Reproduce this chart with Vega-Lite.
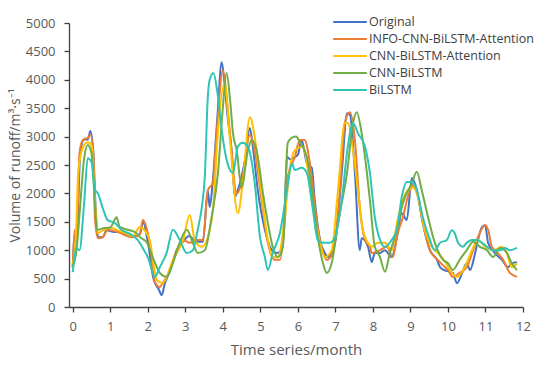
{
  "$schema": "https://vega.github.io/schema/vega-lite/v6.json",
  "width": 454,
  "height": 284,
  "autosize": {"type": "none"},
  "padding": {"left": 69, "top": 23, "right": 27, "bottom": 74},
  "background": "white",
  "config": {
    "view": {"stroke": null},
    "font": "Open Sans",
    "axis": {"labelFont": "Open Sans", "titleFont": "Open Sans", "labelColor": "#595959", "titleColor": "#595959", "labelFontSize": 13, "titleFontSize": 15, "titleFontWeight": "normal", "domainColor": "#404040", "tickColor": "#404040", "grid": false, "tickSize": 5, "domainWidth": 1.3, "tickWidth": 1.3}
  },
  "data": {
    "values": [
      {"s":"Original","t":0,"v":700},{"s":"Original","t":0.05,"v":1300},{"s":"Original","t":0.1,"v":1150},{"s":"Original","t":0.2,"v":2700},{"s":"Original","t":0.3,"v":2950},{"s":"Original","t":0.4,"v":2950},{"s":"Original","t":0.47,"v":3100},{"s":"Original","t":0.55,"v":2700},{"s":"Original","t":0.62,"v":1600},{"s":"Original","t":0.67,"v":1230},{"s":"Original","t":0.8,"v":1230},{"s":"Original","t":0.9,"v":1350},{"s":"Original","t":1.1,"v":1320},{"s":"Original","t":1.3,"v":1330},{"s":"Original","t":1.5,"v":1250},{"s":"Original","t":1.7,"v":1250},{"s":"Original","t":1.8,"v":1300},{"s":"Original","t":1.87,"v":1500},{"s":"Original","t":2.0,"v":1150},{"s":"Original","t":2.15,"v":500},{"s":"Original","t":2.3,"v":300},{"s":"Original","t":2.37,"v":210},{"s":"Original","t":2.45,"v":400},{"s":"Original","t":2.6,"v":650},{"s":"Original","t":2.77,"v":1000},{"s":"Original","t":2.94,"v":1150},{"s":"Original","t":3.1,"v":1250},{"s":"Original","t":3.3,"v":1150},{"s":"Original","t":3.47,"v":1150},{"s":"Original","t":3.6,"v":2050},{"s":"Original","t":3.65,"v":1760},{"s":"Original","t":3.73,"v":2200},{"s":"Original","t":3.85,"v":3300},{"s":"Original","t":3.97,"v":4310},{"s":"Original","t":4.05,"v":3900},{"s":"Original","t":4.13,"v":3340},{"s":"Original","t":4.24,"v":2710},{"s":"Original","t":4.32,"v":1940},{"s":"Original","t":4.4,"v":2060},{"s":"Original","t":4.59,"v":2590},{"s":"Original","t":4.72,"v":3150},{"s":"Original","t":4.8,"v":2820},{"s":"Original","t":4.93,"v":2060},{"s":"Original","t":5.12,"v":1360},{"s":"Original","t":5.31,"v":1000},{"s":"Original","t":5.45,"v":950},{"s":"Original","t":5.57,"v":1000},{"s":"Original","t":5.65,"v":1700},{"s":"Original","t":5.71,"v":2640},{"s":"Original","t":5.79,"v":2600},{"s":"Original","t":5.92,"v":2640},{"s":"Original","t":6.0,"v":2680},{"s":"Original","t":6.1,"v":2940},{"s":"Original","t":6.24,"v":2530},{"s":"Original","t":6.37,"v":2450},{"s":"Original","t":6.45,"v":1880},{"s":"Original","t":6.59,"v":1180},{"s":"Original","t":6.72,"v":950},{"s":"Original","t":6.8,"v":880},{"s":"Original","t":6.99,"v":1130},{"s":"Original","t":7.17,"v":2360},{"s":"Original","t":7.31,"v":3410},{"s":"Original","t":7.39,"v":3380},{"s":"Original","t":7.52,"v":2360},{"s":"Original","t":7.65,"v":1000},{"s":"Original","t":7.7,"v":1210},{"s":"Original","t":7.87,"v":1060},{"s":"Original","t":7.97,"v":790},{"s":"Original","t":8.05,"v":950},{"s":"Original","t":8.19,"v":950},{"s":"Original","t":8.32,"v":1000},{"s":"Original","t":8.5,"v":880},{"s":"Original","t":8.64,"v":1230},{"s":"Original","t":8.77,"v":1650},{"s":"Original","t":8.9,"v":1530},{"s":"Original","t":9.04,"v":2270},{"s":"Original","t":9.17,"v":2060},{"s":"Original","t":9.33,"v":1480},{"s":"Original","t":9.52,"v":1000},{"s":"Original","t":9.71,"v":830},{"s":"Original","t":9.79,"v":700},{"s":"Original","t":9.9,"v":650},{"s":"Original","t":10.13,"v":600},{"s":"Original","t":10.24,"v":420},{"s":"Original","t":10.38,"v":600},{"s":"Original","t":10.5,"v":770},{"s":"Original","t":10.59,"v":650},{"s":"Original","t":10.7,"v":880},{"s":"Original","t":10.8,"v":1180},{"s":"Original","t":10.91,"v":1410},{"s":"Original","t":10.99,"v":1440},{"s":"Original","t":11.07,"v":1130},{"s":"Original","t":11.25,"v":950},{"s":"Original","t":11.44,"v":830},{"s":"Original","t":11.6,"v":700},{"s":"Original","t":11.7,"v":770},{"s":"Original","t":11.84,"v":790},

      {"s":"INFO-CNN-BiLSTM-Attention","t":0,"v":700},{"s":"INFO-CNN-BiLSTM-Attention","t":0.05,"v":1355},{"s":"INFO-CNN-BiLSTM-Attention","t":0.1,"v":1180},{"s":"INFO-CNN-BiLSTM-Attention","t":0.18,"v":2710},{"s":"INFO-CNN-BiLSTM-Attention","t":0.27,"v":2940},{"s":"INFO-CNN-BiLSTM-Attention","t":0.4,"v":2980},{"s":"INFO-CNN-BiLSTM-Attention","t":0.47,"v":3030},{"s":"INFO-CNN-BiLSTM-Attention","t":0.55,"v":2700},{"s":"INFO-CNN-BiLSTM-Attention","t":0.59,"v":1580},{"s":"INFO-CNN-BiLSTM-Attention","t":0.67,"v":1210},{"s":"INFO-CNN-BiLSTM-Attention","t":0.8,"v":1230},{"s":"INFO-CNN-BiLSTM-Attention","t":0.93,"v":1360},{"s":"INFO-CNN-BiLSTM-Attention","t":1.2,"v":1320},{"s":"INFO-CNN-BiLSTM-Attention","t":1.57,"v":1230},{"s":"INFO-CNN-BiLSTM-Attention","t":1.78,"v":1270},{"s":"INFO-CNN-BiLSTM-Attention","t":1.87,"v":1530},{"s":"INFO-CNN-BiLSTM-Attention","t":2.05,"v":1130},{"s":"INFO-CNN-BiLSTM-Attention","t":2.19,"v":440},{"s":"INFO-CNN-BiLSTM-Attention","t":2.32,"v":350},{"s":"INFO-CNN-BiLSTM-Attention","t":2.4,"v":420},{"s":"INFO-CNN-BiLSTM-Attention","t":2.59,"v":650},{"s":"INFO-CNN-BiLSTM-Attention","t":2.77,"v":1000},{"s":"INFO-CNN-BiLSTM-Attention","t":2.94,"v":1180},{"s":"INFO-CNN-BiLSTM-Attention","t":3.12,"v":1130},{"s":"INFO-CNN-BiLSTM-Attention","t":3.3,"v":1180},{"s":"INFO-CNN-BiLSTM-Attention","t":3.47,"v":1180},{"s":"INFO-CNN-BiLSTM-Attention","t":3.6,"v":2060},{"s":"INFO-CNN-BiLSTM-Attention","t":3.73,"v":2180},{"s":"INFO-CNN-BiLSTM-Attention","t":3.85,"v":3200},{"s":"INFO-CNN-BiLSTM-Attention","t":4.0,"v":4170},{"s":"INFO-CNN-BiLSTM-Attention","t":4.1,"v":3700},{"s":"INFO-CNN-BiLSTM-Attention","t":4.19,"v":3060},{"s":"INFO-CNN-BiLSTM-Attention","t":4.37,"v":2000},{"s":"INFO-CNN-BiLSTM-Attention","t":4.5,"v":2180},{"s":"INFO-CNN-BiLSTM-Attention","t":4.72,"v":3030},{"s":"INFO-CNN-BiLSTM-Attention","t":4.85,"v":2760},{"s":"INFO-CNN-BiLSTM-Attention","t":5.02,"v":1940},{"s":"INFO-CNN-BiLSTM-Attention","t":5.2,"v":1130},{"s":"INFO-CNN-BiLSTM-Attention","t":5.39,"v":830},{"s":"INFO-CNN-BiLSTM-Attention","t":5.52,"v":830},{"s":"INFO-CNN-BiLSTM-Attention","t":5.65,"v":1480},{"s":"INFO-CNN-BiLSTM-Attention","t":5.73,"v":2290},{"s":"INFO-CNN-BiLSTM-Attention","t":5.92,"v":2640},{"s":"INFO-CNN-BiLSTM-Attention","t":6.05,"v":2940},{"s":"INFO-CNN-BiLSTM-Attention","t":6.18,"v":2940},{"s":"INFO-CNN-BiLSTM-Attention","t":6.32,"v":2530},{"s":"INFO-CNN-BiLSTM-Attention","t":6.5,"v":1530},{"s":"INFO-CNN-BiLSTM-Attention","t":6.63,"v":1060},{"s":"INFO-CNN-BiLSTM-Attention","t":6.77,"v":830},{"s":"INFO-CNN-BiLSTM-Attention","t":6.93,"v":950},{"s":"INFO-CNN-BiLSTM-Attention","t":7.12,"v":2060},{"s":"INFO-CNN-BiLSTM-Attention","t":7.25,"v":3240},{"s":"INFO-CNN-BiLSTM-Attention","t":7.39,"v":3430},{"s":"INFO-CNN-BiLSTM-Attention","t":7.52,"v":2940},{"s":"INFO-CNN-BiLSTM-Attention","t":7.65,"v":1760},{"s":"INFO-CNN-BiLSTM-Attention","t":7.79,"v":1180},{"s":"INFO-CNN-BiLSTM-Attention","t":7.92,"v":1060},{"s":"INFO-CNN-BiLSTM-Attention","t":7.97,"v":950},{"s":"INFO-CNN-BiLSTM-Attention","t":8.19,"v":1000},{"s":"INFO-CNN-BiLSTM-Attention","t":8.37,"v":1060},{"s":"INFO-CNN-BiLSTM-Attention","t":8.53,"v":880},{"s":"INFO-CNN-BiLSTM-Attention","t":8.66,"v":1300},{"s":"INFO-CNN-BiLSTM-Attention","t":8.8,"v":1580},{"s":"INFO-CNN-BiLSTM-Attention","t":8.93,"v":1940},{"s":"INFO-CNN-BiLSTM-Attention","t":9.07,"v":2150},{"s":"INFO-CNN-BiLSTM-Attention","t":9.2,"v":1940},{"s":"INFO-CNN-BiLSTM-Attention","t":9.33,"v":1480},{"s":"INFO-CNN-BiLSTM-Attention","t":9.52,"v":1000},{"s":"INFO-CNN-BiLSTM-Attention","t":9.73,"v":830},{"s":"INFO-CNN-BiLSTM-Attention","t":9.92,"v":700},{"s":"INFO-CNN-BiLSTM-Attention","t":10.0,"v":650},{"s":"INFO-CNN-BiLSTM-Attention","t":10.13,"v":530},{"s":"INFO-CNN-BiLSTM-Attention","t":10.31,"v":600},{"s":"INFO-CNN-BiLSTM-Attention","t":10.5,"v":700},{"s":"INFO-CNN-BiLSTM-Attention","t":10.67,"v":1000},{"s":"INFO-CNN-BiLSTM-Attention","t":10.8,"v":1230},{"s":"INFO-CNN-BiLSTM-Attention","t":10.99,"v":1440},{"s":"INFO-CNN-BiLSTM-Attention","t":11.07,"v":1360},{"s":"INFO-CNN-BiLSTM-Attention","t":11.17,"v":1060},{"s":"INFO-CNN-BiLSTM-Attention","t":11.33,"v":950},{"s":"INFO-CNN-BiLSTM-Attention","t":11.47,"v":830},{"s":"INFO-CNN-BiLSTM-Attention","t":11.65,"v":600},{"s":"INFO-CNN-BiLSTM-Attention","t":11.84,"v":530},

      {"s":"CNN-BiLSTM-Attention","t":0,"v":750},{"s":"CNN-BiLSTM-Attention","t":0.08,"v":1200},{"s":"CNN-BiLSTM-Attention","t":0.15,"v":2400},{"s":"CNN-BiLSTM-Attention","t":0.3,"v":2850},{"s":"CNN-BiLSTM-Attention","t":0.4,"v":2900},{"s":"CNN-BiLSTM-Attention","t":0.5,"v":2850},{"s":"CNN-BiLSTM-Attention","t":0.6,"v":1800},{"s":"CNN-BiLSTM-Attention","t":0.67,"v":1300},{"s":"CNN-BiLSTM-Attention","t":0.8,"v":1350},{"s":"CNN-BiLSTM-Attention","t":1.0,"v":1400},{"s":"CNN-BiLSTM-Attention","t":1.2,"v":1350},{"s":"CNN-BiLSTM-Attention","t":1.4,"v":1300},{"s":"CNN-BiLSTM-Attention","t":1.6,"v":1250},{"s":"CNN-BiLSTM-Attention","t":1.79,"v":1410},{"s":"CNN-BiLSTM-Attention","t":1.9,"v":1360},{"s":"CNN-BiLSTM-Attention","t":2.05,"v":1180},{"s":"CNN-BiLSTM-Attention","t":2.24,"v":475},{"s":"CNN-BiLSTM-Attention","t":2.4,"v":420},{"s":"CNN-BiLSTM-Attention","t":2.67,"v":830},{"s":"CNN-BiLSTM-Attention","t":2.94,"v":1180},{"s":"CNN-BiLSTM-Attention","t":3.12,"v":1620},{"s":"CNN-BiLSTM-Attention","t":3.25,"v":1180},{"s":"CNN-BiLSTM-Attention","t":3.44,"v":1060},{"s":"CNN-BiLSTM-Attention","t":3.65,"v":1360},{"s":"CNN-BiLSTM-Attention","t":3.75,"v":1800},{"s":"CNN-BiLSTM-Attention","t":3.85,"v":2900},{"s":"CNN-BiLSTM-Attention","t":4.05,"v":3940},{"s":"CNN-BiLSTM-Attention","t":4.19,"v":2940},{"s":"CNN-BiLSTM-Attention","t":4.4,"v":1650},{"s":"CNN-BiLSTM-Attention","t":4.53,"v":2180},{"s":"CNN-BiLSTM-Attention","t":4.72,"v":3340},{"s":"CNN-BiLSTM-Attention","t":4.85,"v":2990},{"s":"CNN-BiLSTM-Attention","t":5.03,"v":2000},{"s":"CNN-BiLSTM-Attention","t":5.2,"v":1180},{"s":"CNN-BiLSTM-Attention","t":5.33,"v":880},{"s":"CNN-BiLSTM-Attention","t":5.47,"v":880},{"s":"CNN-BiLSTM-Attention","t":5.65,"v":1580},{"s":"CNN-BiLSTM-Attention","t":5.79,"v":2460},{"s":"CNN-BiLSTM-Attention","t":5.92,"v":2760},{"s":"CNN-BiLSTM-Attention","t":6.13,"v":2820},{"s":"CNN-BiLSTM-Attention","t":6.4,"v":1760},{"s":"CNN-BiLSTM-Attention","t":6.59,"v":1130},{"s":"CNN-BiLSTM-Attention","t":6.72,"v":880},{"s":"CNN-BiLSTM-Attention","t":6.9,"v":1000},{"s":"CNN-BiLSTM-Attention","t":7.07,"v":2060},{"s":"CNN-BiLSTM-Attention","t":7.25,"v":3240},{"s":"CNN-BiLSTM-Attention","t":7.33,"v":3240},{"s":"CNN-BiLSTM-Attention","t":7.47,"v":2760},{"s":"CNN-BiLSTM-Attention","t":7.6,"v":2060},{"s":"CNN-BiLSTM-Attention","t":7.73,"v":1360},{"s":"CNN-BiLSTM-Attention","t":7.87,"v":1130},{"s":"CNN-BiLSTM-Attention","t":7.97,"v":1060},{"s":"CNN-BiLSTM-Attention","t":8.13,"v":1130},{"s":"CNN-BiLSTM-Attention","t":8.32,"v":1130},{"s":"CNN-BiLSTM-Attention","t":8.5,"v":1000},{"s":"CNN-BiLSTM-Attention","t":8.64,"v":1480},{"s":"CNN-BiLSTM-Attention","t":8.77,"v":1830},{"s":"CNN-BiLSTM-Attention","t":8.93,"v":2060},{"s":"CNN-BiLSTM-Attention","t":9.07,"v":2110},{"s":"CNN-BiLSTM-Attention","t":9.2,"v":1940},{"s":"CNN-BiLSTM-Attention","t":9.38,"v":1360},{"s":"CNN-BiLSTM-Attention","t":9.57,"v":1060},{"s":"CNN-BiLSTM-Attention","t":9.73,"v":950},{"s":"CNN-BiLSTM-Attention","t":9.92,"v":800},{"s":"CNN-BiLSTM-Attention","t":10.05,"v":650},{"s":"CNN-BiLSTM-Attention","t":10.24,"v":530},{"s":"CNN-BiLSTM-Attention","t":10.45,"v":700},{"s":"CNN-BiLSTM-Attention","t":10.64,"v":1000},{"s":"CNN-BiLSTM-Attention","t":10.8,"v":1180},{"s":"CNN-BiLSTM-Attention","t":10.99,"v":1060},{"s":"CNN-BiLSTM-Attention","t":11.2,"v":1000},{"s":"CNN-BiLSTM-Attention","t":11.44,"v":1060},{"s":"CNN-BiLSTM-Attention","t":11.57,"v":950},{"s":"CNN-BiLSTM-Attention","t":11.7,"v":700},{"s":"CNN-BiLSTM-Attention","t":11.84,"v":770},

      {"s":"CNN-BiLSTM","t":0,"v":700},{"s":"CNN-BiLSTM","t":0.1,"v":1000},{"s":"CNN-BiLSTM","t":0.2,"v":1800},{"s":"CNN-BiLSTM","t":0.3,"v":2600},{"s":"CNN-BiLSTM","t":0.4,"v":2850},{"s":"CNN-BiLSTM","t":0.5,"v":2700},{"s":"CNN-BiLSTM","t":0.6,"v":1700},{"s":"CNN-BiLSTM","t":0.64,"v":1360},{"s":"CNN-BiLSTM","t":0.85,"v":1390},{"s":"CNN-BiLSTM","t":1.0,"v":1400},{"s":"CNN-BiLSTM","t":1.17,"v":1580},{"s":"CNN-BiLSTM","t":1.25,"v":1410},{"s":"CNN-BiLSTM","t":1.47,"v":1360},{"s":"CNN-BiLSTM","t":1.7,"v":1300},{"s":"CNN-BiLSTM","t":1.79,"v":1230},{"s":"CNN-BiLSTM","t":1.97,"v":1140},{"s":"CNN-BiLSTM","t":2.13,"v":880},{"s":"CNN-BiLSTM","t":2.32,"v":600},{"s":"CNN-BiLSTM","t":2.5,"v":530},{"s":"CNN-BiLSTM","t":2.67,"v":775},{"s":"CNN-BiLSTM","t":2.85,"v":1130},{"s":"CNN-BiLSTM","t":3.04,"v":1360},{"s":"CNN-BiLSTM","t":3.2,"v":1130},{"s":"CNN-BiLSTM","t":3.33,"v":950},{"s":"CNN-BiLSTM","t":3.52,"v":1000},{"s":"CNN-BiLSTM","t":3.7,"v":1580},{"s":"CNN-BiLSTM","t":3.87,"v":2360},{"s":"CNN-BiLSTM","t":4.0,"v":3500},{"s":"CNN-BiLSTM","t":4.1,"v":4120},{"s":"CNN-BiLSTM","t":4.2,"v":3600},{"s":"CNN-BiLSTM","t":4.27,"v":3060},{"s":"CNN-BiLSTM","t":4.37,"v":2760},{"s":"CNN-BiLSTM","t":4.5,"v":2110},{"s":"CNN-BiLSTM","t":4.67,"v":2760},{"s":"CNN-BiLSTM","t":4.77,"v":2940},{"s":"CNN-BiLSTM","t":4.9,"v":2760},{"s":"CNN-BiLSTM","t":5.07,"v":2000},{"s":"CNN-BiLSTM","t":5.2,"v":1480},{"s":"CNN-BiLSTM","t":5.33,"v":1060},{"s":"CNN-BiLSTM","t":5.47,"v":880},{"s":"CNN-BiLSTM","t":5.6,"v":1060},{"s":"CNN-BiLSTM","t":5.73,"v":2890},{"s":"CNN-BiLSTM","t":5.87,"v":2990},{"s":"CNN-BiLSTM","t":5.95,"v":3000},{"s":"CNN-BiLSTM","t":6.05,"v":2900},{"s":"CNN-BiLSTM","t":6.24,"v":2640},{"s":"CNN-BiLSTM","t":6.37,"v":2060},{"s":"CNN-BiLSTM","t":6.53,"v":1230},{"s":"CNN-BiLSTM","t":6.67,"v":770},{"s":"CNN-BiLSTM","t":6.77,"v":600},{"s":"CNN-BiLSTM","t":6.9,"v":770},{"s":"CNN-BiLSTM","t":7.07,"v":1480},{"s":"CNN-BiLSTM","t":7.31,"v":2360},{"s":"CNN-BiLSTM","t":7.47,"v":3240},{"s":"CNN-BiLSTM","t":7.57,"v":3430},{"s":"CNN-BiLSTM","t":7.7,"v":3060},{"s":"CNN-BiLSTM","t":7.84,"v":2360},{"s":"CNN-BiLSTM","t":7.92,"v":1880},{"s":"CNN-BiLSTM","t":8.05,"v":1060},{"s":"CNN-BiLSTM","t":8.19,"v":880},{"s":"CNN-BiLSTM","t":8.32,"v":620},{"s":"CNN-BiLSTM","t":8.45,"v":950},{"s":"CNN-BiLSTM","t":8.64,"v":1360},{"s":"CNN-BiLSTM","t":8.8,"v":1830},{"s":"CNN-BiLSTM","t":9.04,"v":2180},{"s":"CNN-BiLSTM","t":9.17,"v":2380},{"s":"CNN-BiLSTM","t":9.3,"v":2060},{"s":"CNN-BiLSTM","t":9.47,"v":1580},{"s":"CNN-BiLSTM","t":9.65,"v":1130},{"s":"CNN-BiLSTM","t":9.87,"v":830},{"s":"CNN-BiLSTM","t":10.0,"v":770},{"s":"CNN-BiLSTM","t":10.13,"v":650},{"s":"CNN-BiLSTM","t":10.31,"v":830},{"s":"CNN-BiLSTM","t":10.5,"v":1000},{"s":"CNN-BiLSTM","t":10.67,"v":1150},{"s":"CNN-BiLSTM","t":10.85,"v":1060},{"s":"CNN-BiLSTM","t":11.04,"v":1000},{"s":"CNN-BiLSTM","t":11.2,"v":880},{"s":"CNN-BiLSTM","t":11.39,"v":1040},{"s":"CNN-BiLSTM","t":11.57,"v":950},{"s":"CNN-BiLSTM","t":11.7,"v":770},{"s":"CNN-BiLSTM","t":11.84,"v":650},

      {"s":"BiLSTM","t":0,"v":615},{"s":"BiLSTM","t":0.1,"v":1040},{"s":"BiLSTM","t":0.18,"v":1000},{"s":"BiLSTM","t":0.3,"v":1800},{"s":"BiLSTM","t":0.4,"v":2620},{"s":"BiLSTM","t":0.5,"v":2550},{"s":"BiLSTM","t":0.59,"v":2060},{"s":"BiLSTM","t":0.67,"v":2000},{"s":"BiLSTM","t":0.8,"v":1740},{"s":"BiLSTM","t":0.93,"v":1530},{"s":"BiLSTM","t":1.12,"v":1480},{"s":"BiLSTM","t":1.3,"v":1360},{"s":"BiLSTM","t":1.57,"v":1270},{"s":"BiLSTM","t":1.73,"v":1180},{"s":"BiLSTM","t":1.9,"v":1000},{"s":"BiLSTM","t":2.0,"v":880},{"s":"BiLSTM","t":2.19,"v":530},{"s":"BiLSTM","t":2.32,"v":700},{"s":"BiLSTM","t":2.5,"v":950},{"s":"BiLSTM","t":2.67,"v":1360},{"s":"BiLSTM","t":2.85,"v":1180},{"s":"BiLSTM","t":3.04,"v":950},{"s":"BiLSTM","t":3.2,"v":1000},{"s":"BiLSTM","t":3.33,"v":1360},{"s":"BiLSTM","t":3.44,"v":1760},{"s":"BiLSTM","t":3.52,"v":2300},{"s":"BiLSTM","t":3.6,"v":3700},{"s":"BiLSTM","t":3.65,"v":4000},{"s":"BiLSTM","t":3.75,"v":4120},{"s":"BiLSTM","t":3.85,"v":3800},{"s":"BiLSTM","t":3.97,"v":3120},{"s":"BiLSTM","t":4.05,"v":2760},{"s":"BiLSTM","t":4.19,"v":2410},{"s":"BiLSTM","t":4.27,"v":2360},{"s":"BiLSTM","t":4.4,"v":2820},{"s":"BiLSTM","t":4.53,"v":2890},{"s":"BiLSTM","t":4.67,"v":2820},{"s":"BiLSTM","t":4.85,"v":2180},{"s":"BiLSTM","t":4.99,"v":1230},{"s":"BiLSTM","t":5.12,"v":880},{"s":"BiLSTM","t":5.2,"v":650},{"s":"BiLSTM","t":5.33,"v":950},{"s":"BiLSTM","t":5.52,"v":1300},{"s":"BiLSTM","t":5.71,"v":2060},{"s":"BiLSTM","t":5.84,"v":2530},{"s":"BiLSTM","t":5.92,"v":2410},{"s":"BiLSTM","t":6.1,"v":2450},{"s":"BiLSTM","t":6.24,"v":2360},{"s":"BiLSTM","t":6.4,"v":1710},{"s":"BiLSTM","t":6.53,"v":1180},{"s":"BiLSTM","t":6.67,"v":1130},{"s":"BiLSTM","t":6.85,"v":1130},{"s":"BiLSTM","t":6.99,"v":1230},{"s":"BiLSTM","t":7.17,"v":1880},{"s":"BiLSTM","t":7.33,"v":2820},{"s":"BiLSTM","t":7.47,"v":3240},{"s":"BiLSTM","t":7.6,"v":3060},{"s":"BiLSTM","t":7.79,"v":2820},{"s":"BiLSTM","t":7.92,"v":2360},{"s":"BiLSTM","t":8.05,"v":1580},{"s":"BiLSTM","t":8.19,"v":1180},{"s":"BiLSTM","t":8.32,"v":1060},{"s":"BiLSTM","t":8.5,"v":1180},{"s":"BiLSTM","t":8.64,"v":1360},{"s":"BiLSTM","t":8.77,"v":1940},{"s":"BiLSTM","t":8.9,"v":2200},{"s":"BiLSTM","t":9.04,"v":2200},{"s":"BiLSTM","t":9.17,"v":2060},{"s":"BiLSTM","t":9.33,"v":1580},{"s":"BiLSTM","t":9.52,"v":1180},{"s":"BiLSTM","t":9.65,"v":1000},{"s":"BiLSTM","t":9.79,"v":1130},{"s":"BiLSTM","t":9.97,"v":1180},{"s":"BiLSTM","t":10.1,"v":1350},{"s":"BiLSTM","t":10.18,"v":1300},{"s":"BiLSTM","t":10.27,"v":1130},{"s":"BiLSTM","t":10.4,"v":1060},{"s":"BiLSTM","t":10.5,"v":1130},{"s":"BiLSTM","t":10.64,"v":1180},{"s":"BiLSTM","t":10.77,"v":1180},{"s":"BiLSTM","t":10.91,"v":1130},{"s":"BiLSTM","t":11.04,"v":1060},{"s":"BiLSTM","t":11.2,"v":1000},{"s":"BiLSTM","t":11.39,"v":1000},{"s":"BiLSTM","t":11.52,"v":1040},{"s":"BiLSTM","t":11.65,"v":1000},{"s":"BiLSTM","t":11.84,"v":1040}
    ]
  },
  "mark": {"type": "line", "strokeWidth": 2, "interpolate": "monotone"},
  "encoding": {
    "x": {
      "field": "t", "type": "quantitative",
      "scale": {"domain": [-0.1, 12], "nice": false, "zero": false},
      "axis": {"values": [0,1,2,3,4,5,6,7,8,9,10,11,12], "title": "Time series/month", "labelPadding": 8, "titlePadding": 9, "labelFlush": false}
    },
    "y": {
      "field": "v", "type": "quantitative",
      "scale": {"domain": [0, 5000], "nice": false},
      "axis": {"values": [0,500,1000,1500,2000,2500,3000,3500,4000,4500,5000], "format": "d", "title": "Volume of runoff/m³·s⁻¹", "titleFontSize": 14, "labelPadding": 9, "titlePadding": 3}
    },
    "color": {
      "field": "s", "type": "nominal",
      "sort": ["Original","INFO-CNN-BiLSTM-Attention","CNN-BiLSTM-Attention","CNN-BiLSTM","BiLSTM"],
      "scale": {"domain": ["Original","INFO-CNN-BiLSTM-Attention","CNN-BiLSTM-Attention","CNN-BiLSTM","BiLSTM"], "range": ["#4472C4","#ED7D31","#FFC000","#70AD47","#2EC4B6"]},
      "legend": {"title": null, "orient": "none", "legendX": 273, "legendY": -9, "symbolType": "M-2.4,0H2.4", "symbolSize": 196, "symbolStrokeWidth": 2, "labelFontSize": 12.5, "labelFont": "Open Sans", "labelColor": "#404040", "labelOffset": 11, "labelLimit": 300, "rowPadding": 2, "padding": 0}
    },
    "order": {"field": "t", "type": "quantitative"}
  }
}
